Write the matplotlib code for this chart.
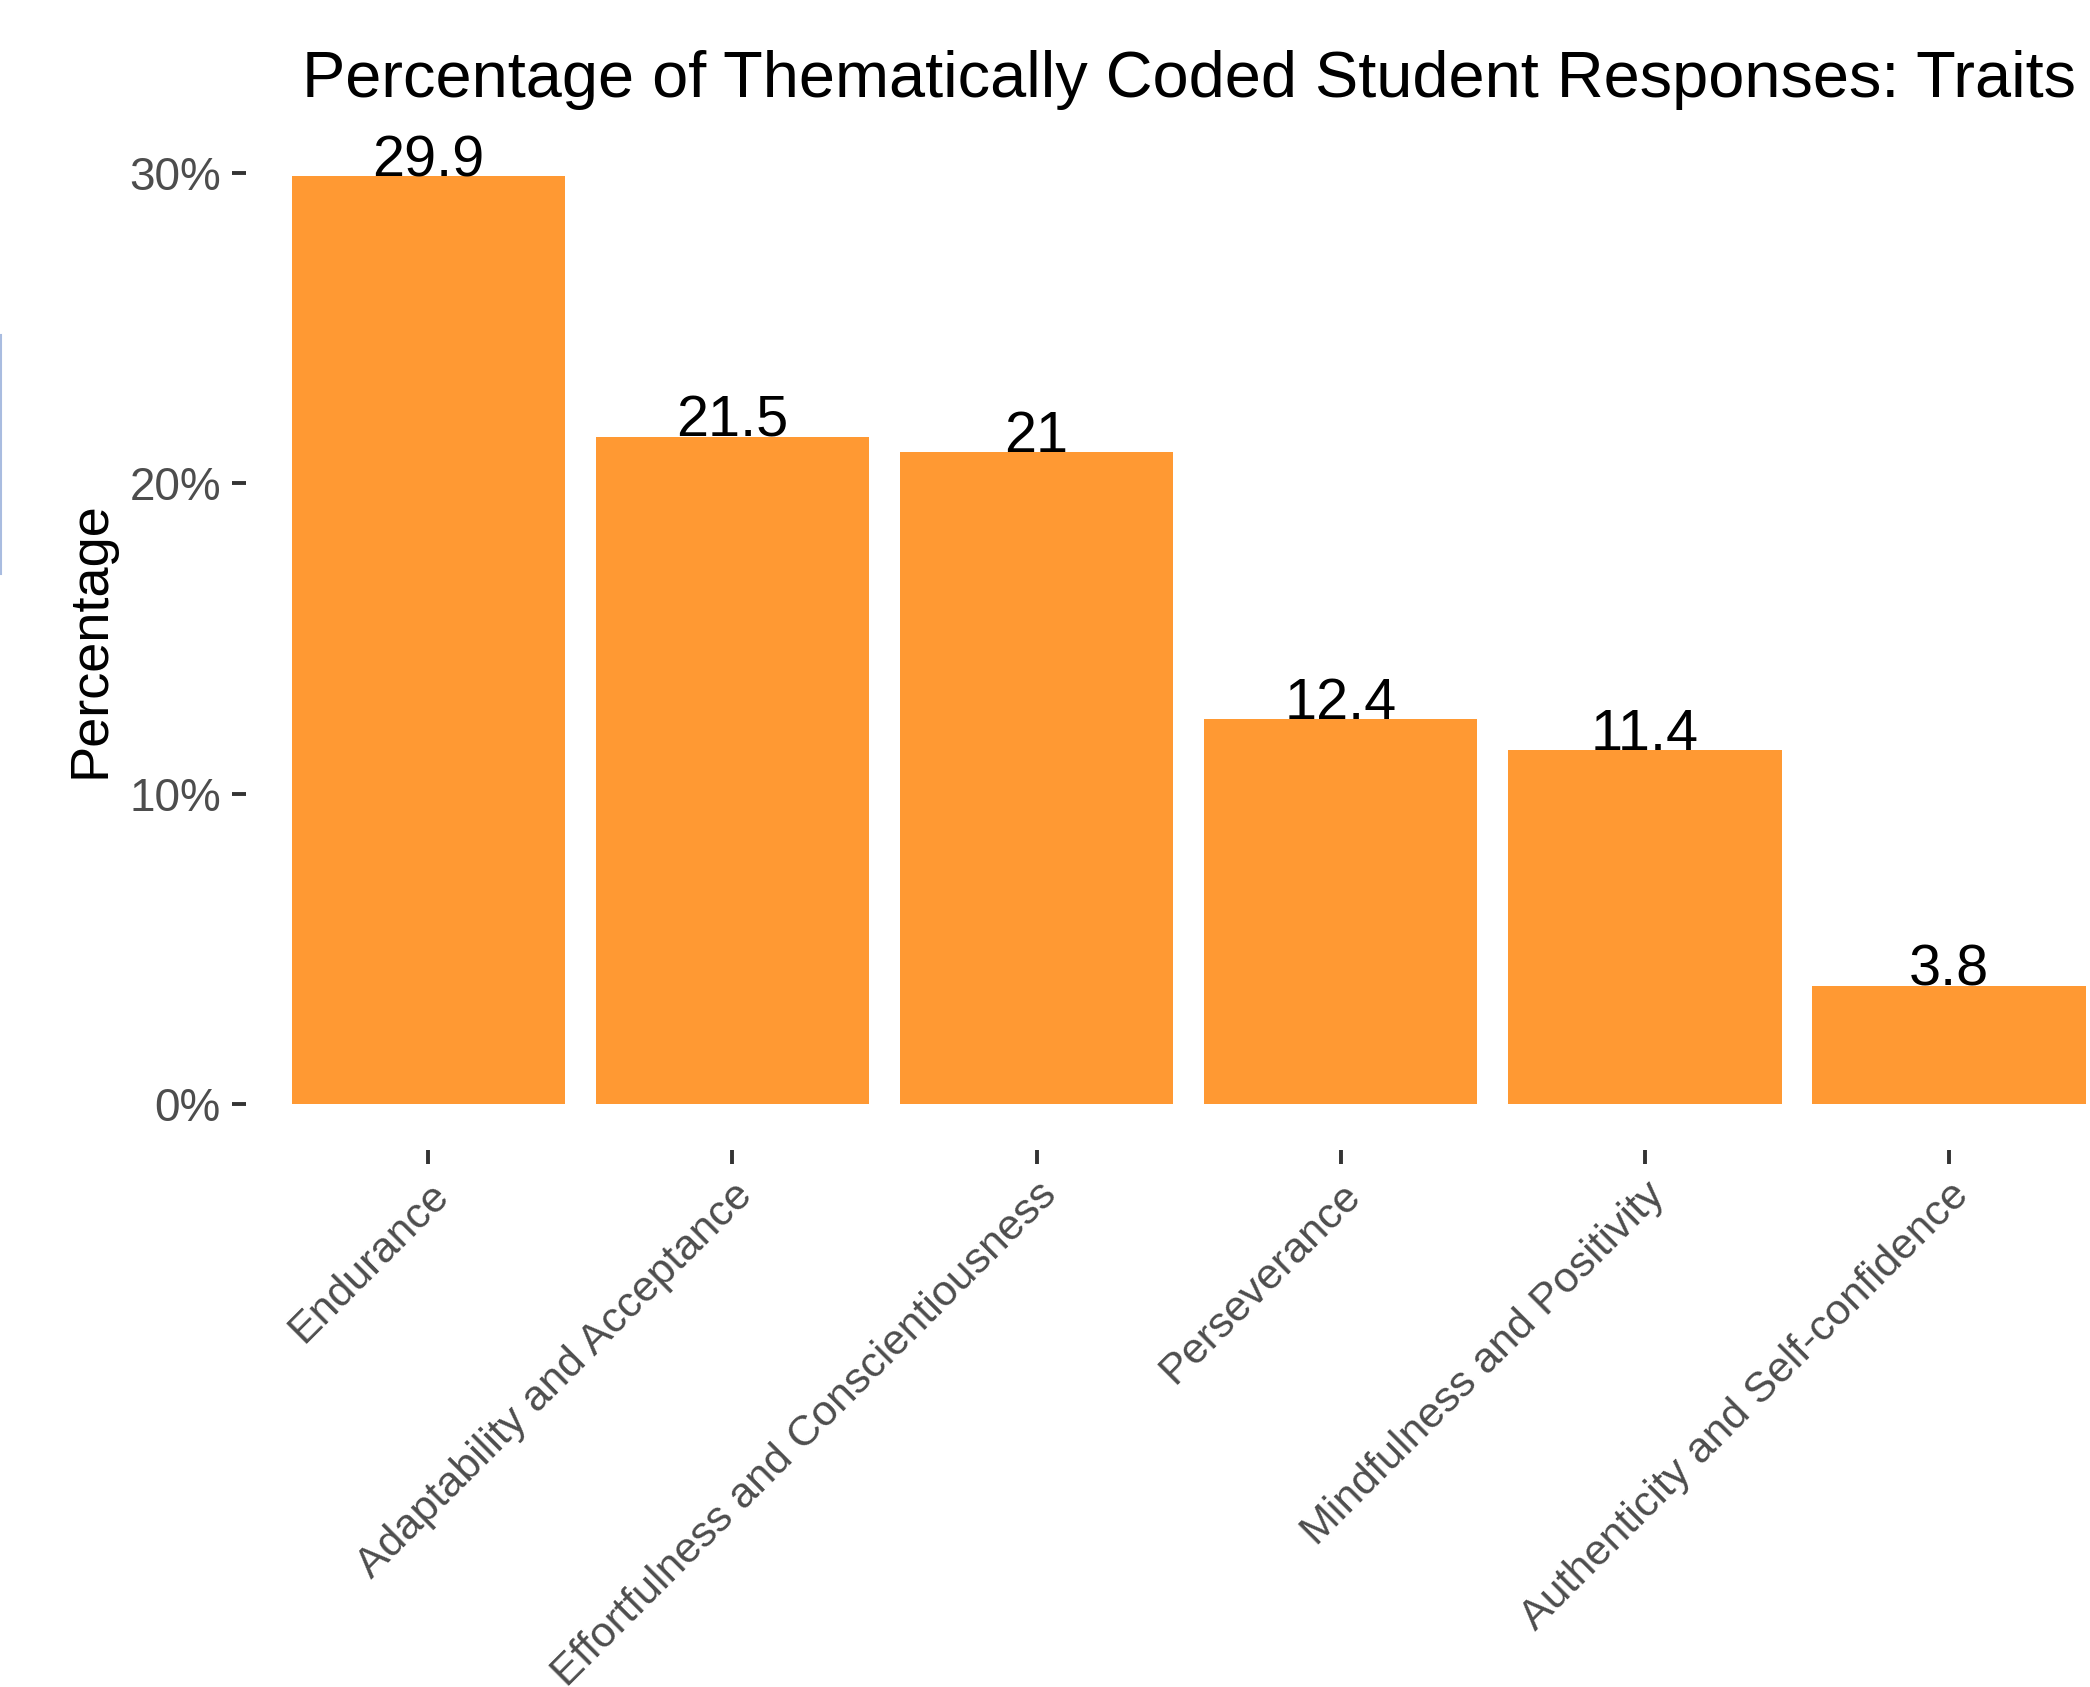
import numpy as np
import matplotlib
matplotlib.use("Agg")
import matplotlib.pyplot as plt
from matplotlib.ticker import PercentFormatter
from matplotlib.lines import Line2D

plt.rcParams['font.family'] = ['Liberation Sans', 'DejaVu Sans']

# traits and share of coded responses (%)
traits = ["Endurance", "Adaptability and Acceptance", "Effortfulness and Conscientiousness",
          "Perseverance", "Mindfulness and Positivity", "Authenticity and Self-confidence"]
pct = [29.9, 21.5, 21.0, 12.4, 11.4, 3.8]
pct_labels = ["29.9", "21.5", "21", "12.4", "11.4", "3.8"]
yticks = [0, 10, 20, 30]

bar_col = '#FF9933'

fig = plt.figure(figsize=(20.9, 16.87), dpi=100)
# panel runs a bit past the right edge of the canvas
ax = fig.add_axes([0.1177, 0.3183, 0.902, 0.6046])

x = np.arange(len(traits))
ax.bar(x, pct, width=0.9, color=bar_col, edgecolor='none')

for xi, v, lab in zip(x, pct, pct_labels):
    ax.text(xi, v, lab, ha='center', va='baseline', fontsize=41.5, color='black')

ax.set_xlim(-0.6, len(traits) - 0.4)
ymax = max(pct)
ax.set_ylim(-0.05 * ymax, 1.05 * ymax)

ax.set_yticks(yticks)
ax.yaxis.set_major_formatter(PercentFormatter(xmax=100, decimals=0))
ax.set_xticks(x)
ax.set_xticklabels(traits, rotation=45, ha='right', va='top', rotation_mode='anchor')

ax.tick_params(axis='both', colors='#333333', length=10, width=2.8,
               labelcolor='#4D4D4D')
ax.tick_params(axis='y', pad=8, labelsize=33)
ax.tick_params(axis='x', pad=8, labelsize=31)

for s in ax.spines.values():
    s.set_visible(False)

ax.set_ylabel("Percentage", fontsize=39, color='black', labelpad=10)
ax.set_title("Percentage of Thematically Coded Student Responses: Traits",
             fontsize=46.7, color='black', pad=24)

# thin blue edge line on the left border
fig.add_artist(Line2D([0.0006, 0.0006], [1 - 335 / 1687, 1 - 574 / 1687],
                      transform=fig.transFigure, color='#A9BCE0', lw=1.5))

fig.savefig("out.png", dpi=100)
